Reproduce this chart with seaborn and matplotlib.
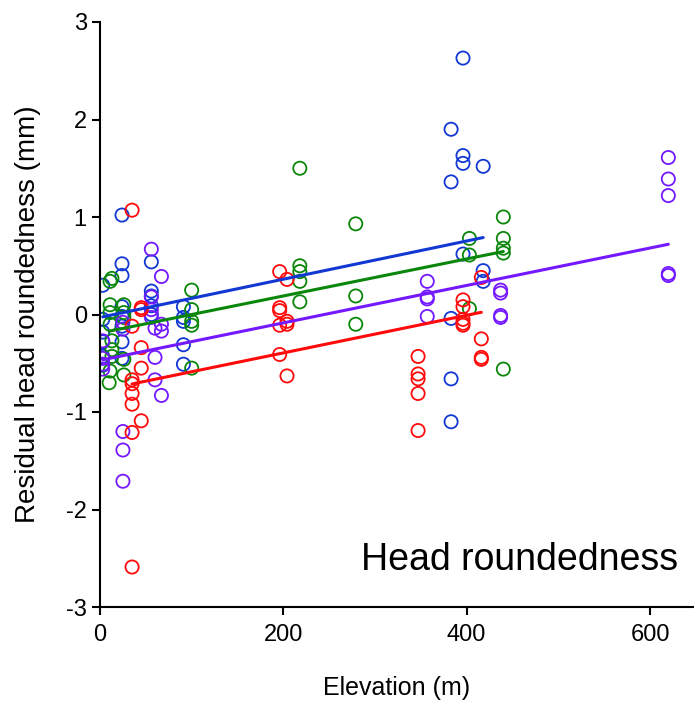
import numpy as np
import pandas as pd
import matplotlib
matplotlib.use("Agg")
import matplotlib.pyplot as plt
import seaborn as sns

# group colours (blue, green, purple, red)
GROUPS = ["blue", "green", "purple", "red"]
COLORS = ["#1238d4", "#0a870a", "#7418ff", "#ff0a0a"]

blue_elev = [3, 3, 3, 3, 3, 3, 24, 24, 24, 24, 24, 24, 24, 24, 56, 56, 56, 56, 56,
             91, 91, 91, 91, 91, 383, 383, 383, 383, 383, 396, 396, 396, 396, 418, 418, 418]
blue_res = [0.30, -0.05, -0.18, -0.28, -0.43, -0.52, 1.02, 0.52, 0.40, 0.08, -0.02, -0.12, -0.28, -0.45,
            0.54, 0.24, 0.19, 0.09, 0.0, 0.08, -0.03, -0.07, -0.31, -0.51,
            1.90, 1.36, -0.04, -0.66, -1.10, 2.63, 1.63, 1.55, 0.62, 1.52, 0.45, 0.34]

green_elev = [11, 13, 11, 11, 11, 13, 13, 13, 11, 10, 26, 26, 26, 26, 26,
              100, 100, 100, 100, 100, 218, 218, 218, 218, 218, 279, 279, 279,
              403, 403, 403, 440, 440, 440, 440, 440]
green_res = [0.34, 0.37, 0.10, 0.02, -0.10, -0.27, -0.36, -0.43, -0.58, -0.70, 0.10, 0.02, -0.03, -0.46, -0.62,
             0.25, 0.05, -0.07, -0.11, -0.55, 1.50, 0.50, 0.44, 0.34, 0.13, 0.93, 0.19, -0.10,
             0.78, 0.61, 0.06, 1.00, 0.78, 0.68, 0.63, -0.56]

purple_elev = [3, 3, 3, 3, 25, 25, 25, 25, 25, 56, 56, 56, 56, 60, 60, 60, 67, 67, 67, 67,
               357, 357, 357, 357, 437, 437, 437, 437, 620, 620, 620, 620, 620]
purple_res = [-0.27, -0.51, -0.56, -0.45, -0.08, -0.15, -1.20, -1.39, -1.71, 0.67, 0.18, 0.05, -0.03,
              -0.14, -0.44, -0.67, 0.39, -0.10, -0.17, -0.83,
              0.34, 0.18, 0.16, -0.02, 0.25, 0.22, -0.01, -0.03, 1.61, 1.39, 1.22, 0.42, 0.40]

red_elev = [35, 35, 35, 35, 35, 35, 35, 35, 45, 45, 45, 45, 45, 196, 196, 196, 196, 196,
            204, 204, 204, 204, 347, 347, 347, 347, 347, 396, 396, 396, 396, 396, 416, 416, 416, 416]
red_res = [1.07, -0.12, -0.67, -0.71, -0.81, -0.92, -1.21, -2.59, 0.07, 0.05, -0.34, -0.55, -1.09,
           0.44, 0.07, 0.04, -0.11, -0.41, 0.36, -0.07, -0.10, -0.63,
           -0.43, -0.61, -0.66, -0.81, -1.19, 0.15, 0.08, -0.05, -0.09, -0.11, 0.38, -0.25, -0.44, -0.46]

# fitted lines (intercept, slope) per group
fit_intercept = [-0.03, -0.19, -0.47, -0.78]
fit_slope = [0.00196, 0.0019, 0.00192, 0.00193]

elevs = [blue_elev, green_elev, purple_elev, red_elev]
resids = [blue_res, green_res, purple_res, red_res]

pts = pd.concat([pd.DataFrame({"elev": e, "res": r, "group": g})
                 for e, r, g in zip(elevs, resids, GROUPS)], ignore_index=True)

# fit line endpoints over each group's elevation range
fits = []
for e, g, b0, b1 in zip(elevs, GROUPS, fit_intercept, fit_slope):
    xs = np.array([min(e), max(e)])
    fits.append(pd.DataFrame({"elev": xs, "res": b0 + b1 * xs, "group": g}))
fits = pd.concat(fits, ignore_index=True)

sns.set_theme(style="ticks")
plt.rcParams["font.family"] = ["Liberation Sans", "DejaVu Sans"]
plt.rcParams["axes.unicode_minus"] = False
for key in ["text.color", "axes.labelcolor", "xtick.color", "ytick.color",
            "xtick.labelcolor", "ytick.labelcolor"]:
    plt.rcParams[key] = "black"

fig = plt.figure(figsize=(6.94, 7.13), dpi=100)
ax = fig.add_axes([100 / 694, 106 / 713, 594 / 694, 585 / 713])

palette = dict(zip(GROUPS, COLORS))
sns.scatterplot(data=pts, x="elev", y="res", hue="group", palette=palette,
                s=90, marker="o", linewidth=1.3, legend=False, ax=ax, zorder=2)
coll = ax.collections[0]
coll.set_edgecolors(coll.get_facecolors())
coll.set_facecolor("none")

sns.lineplot(data=fits, x="elev", y="res", hue="group", palette=palette,
             linewidth=2.2, legend=False, ax=ax, zorder=3)

ax.set_xlim(0, 648)
ax.set_ylim(-3, 3)
ax.set_xticks([0, 200, 400, 600])
ax.set_yticks([-3, -2, -1, 0, 1, 2, 3])
ax.set_xlabel("Elevation (m)", fontsize=18, labelpad=22)
ax.set_ylabel("Residual head roundedness (mm)", fontsize=20, labelpad=18)
ax.tick_params(axis="both", labelsize=17, length=6, width=1.5, direction="out", color="black")
ax.tick_params(axis="x", pad=6)
for side in ["left", "bottom"]:
    ax.spines[side].set_linewidth(1.5)
    ax.spines[side].set_color("black")
sns.despine(ax=ax)

ax.text(0.973, 0.05, "Head roundedness", transform=ax.transAxes,
        ha="right", va="bottom", fontsize=27)

plt.savefig("out.png", dpi=100)
